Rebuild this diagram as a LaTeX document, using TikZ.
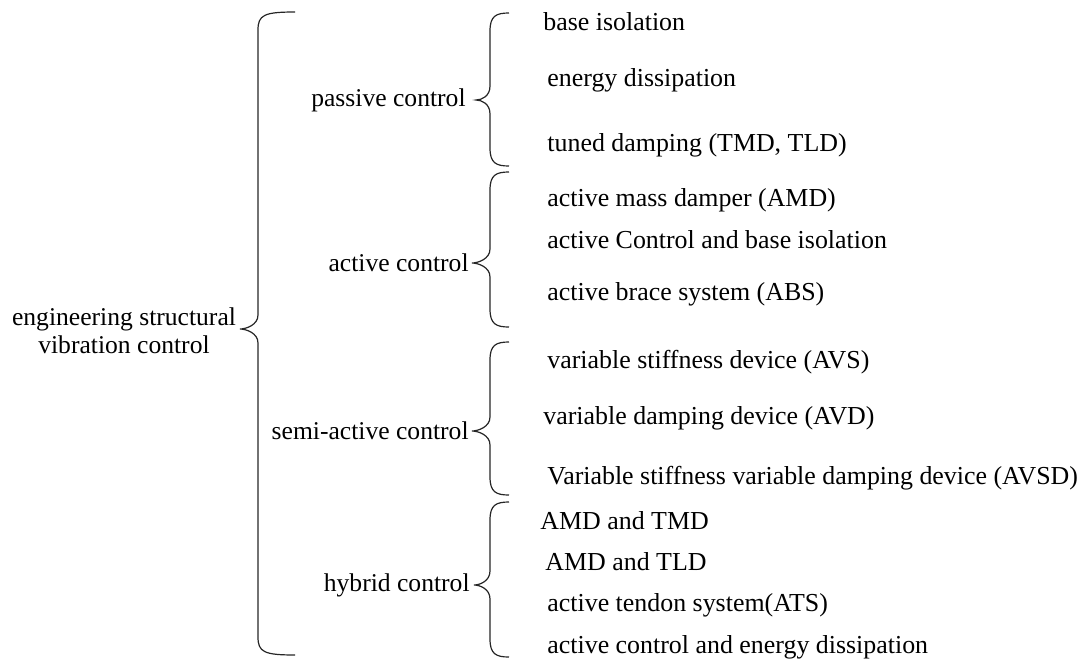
\documentclass[tikz,border=0pt]{standalone}
\usepackage{fontspec}
\setmainfont{Liberation Serif}
\usetikzlibrary{positioning}

% curly brace: #1 tip x, #2 spine x, #3 end x, #4 top y, #5 tip y, #6 bottom y
\newcommand{\curly}[6]{%
  \draw[brace] (#3,#4) .. controls (#2+6,#4) and (#2,#4+3) .. (#2,#4+18)
    -- (#2,#5-14) .. controls (#2,#5-4) and (#1+6,#5) .. (#1,#5)
    .. controls (#1+6,#5) and (#2,#5+4) .. (#2,#5+14)
    -- (#2,#6-18) .. controls (#2,#6-3) and (#2+6,#6) .. (#3,#6);}

\begin{document}
\begin{tikzpicture}[
    x=0.5pt, y=-0.5pt,
    brace/.style={draw=black!85, line width=0.6pt},
    root/.style={align=center, inner sep=0pt, font=\fontsize{12.8}{14}\selectfont},
    group/.style={anchor=east, inner sep=0pt, font=\fontsize{12.8}{14}\selectfont},
    leaf/.style={anchor=west, inner sep=0pt, font=\fontsize{12.95}{14}\selectfont}
]
\useasboundingbox (0,0) rectangle (1082,659);

% Root
\node[root] (root) at (124,331) {engineering structural\\vibration control};

% Groups
\node[group] (passive) at (466,100) {passive control};
\node[group] (active) at (469,263) {active control};
\node[group] (semi) at (469,431) {semi-active control};
\node[group] (hybrid) at (470,585) {hybrid control};

% Leaves - passive
\node[leaf] (base) at (543,22) {base isolation};
\node[leaf] (energy) at (547,80) {energy dissipation};
\node[leaf] (tuned) at (547,145) {tuned damping (TMD, TLD)};

% Leaves - active
\node[leaf] (amd) at (547,200) {active mass damper (AMD)};
\node[leaf] (acbase) at (547,240) {active Control and base isolation};
\node[leaf] (abs) at (547,294) {active brace system (ABS)};

% Leaves - semi-active
\node[leaf] (avs) at (547,362) {variable stiffness device (AVS)};
\node[leaf] (avd) at (543,418) {variable damping device (AVD)};
\node[leaf] (avsd) at (547,478) {Variable stiffness variable damping device (AVSD)};

% Leaves - hybrid
\node[leaf] (amdtmd) at (540,521) {AMD and TMD};
\node[leaf] (amdtld) at (545,562) {AMD and TLD};
\node[leaf] (ats) at (547,605) {active tendon system(ATS)};
\node[leaf] (acenergy) at (547,647) {active control and energy dissipation};

% Braces
\curly{240}{258}{295}{12}{329}{655}
\curly{476}{490}{509}{13}{100}{166}
\curly{472}{490}{509}{172}{263}{327}
\curly{472}{490}{509}{342}{431}{495}
\curly{474}{490}{509}{502}{585}{657}

\end{tikzpicture}
\end{document}
